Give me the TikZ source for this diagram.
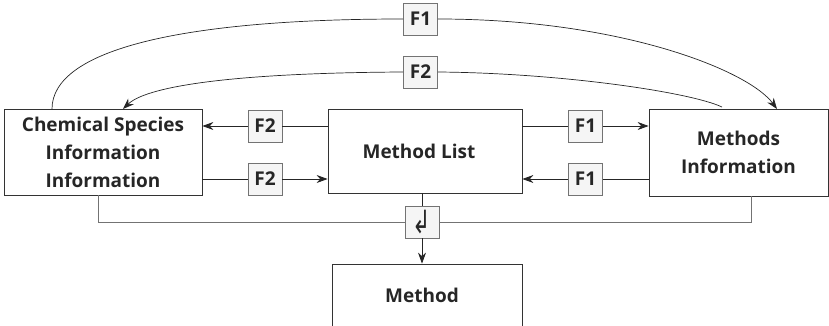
\documentclass[tikz,border=0pt]{standalone}
\usepackage{fontspec}
\setmainfont{Open Sans}
\newfontfamily\symfont{DejaVu Sans}
\usetikzlibrary{arrows.meta}
\tikzset{
  bigbox/.style={draw=black!80,line width=0.8pt,align=center,font=\fontsize{19}{28}\selectfont\bfseries,text=black!85,inner sep=0pt},
  fbox/.style={draw=black!55,fill=black!4,line width=0.8pt,minimum width=34pt,minimum height=32pt,inner sep=0pt,font=\fontsize{19}{20}\selectfont\bfseries,text=black!85},
  arr/.style={-{Stealth[length=11pt,width=8pt]}},
  wire/.style={draw=black!85,line width=0.7pt},
}
\begin{document}
\begin{tikzpicture}[x=1pt,y=1pt]
  \useasboundingbox (0,0) rectangle (829,-326);
  \clip (0,0) rectangle (829,-326);
  % main boxes
  \node[bigbox,minimum width=198pt,minimum height=86pt] (chem) at (103,-152) {Chemical Species\\Information\\Information};
  \node[bigbox,minimum width=194pt,minimum height=84pt] (list) at (425,-151) {Method List\hspace*{12pt}};
  \node[bigbox,minimum width=179pt,minimum height=87pt] (minfo) at (738.5,-152.5) {Methods\\Information};
  \node[bigbox,minimum width=190pt,minimum height=62pt] (method) at (427,-295) {Method\hspace*{10pt}};
  % flow labels
  \node[fbox] (toptF1) at (420.5,-19) {F1};
  \node[fbox] (toptF2) at (420.5,-72) {F2};
  \node[fbox] (lF2a) at (265,-126) {F2};
  \node[fbox] (lF2b) at (265,-179) {F2};
  \node[fbox] (rF1a) at (585.5,-126) {F1};
  \node[fbox] (rF1b) at (585.5,-179) {F1};
  \node[fbox,font=\symfont] (ret) at (422,-222) {\raisebox{-3pt}{\scalebox{1.1}[1.6]{\fontsize{20}{20}\selectfont ↲}}};
  % horizontal flows
  \draw[wire] (lF2a.east -| list.west) -- (lF2a.east);
  \draw[wire,arr] (lF2a.west) -- (lF2a.west -| chem.east);
  \draw[wire] (lF2b.west -| chem.east) -- (lF2b.west);
  \draw[wire,arr] (lF2b.east) -- (lF2b.east -| list.west);
  \draw[wire] (rF1a.west -| list.east) -- (rF1a.west);
  \draw[wire,arr] (rF1a.east) -- (rF1a.east -| minfo.west);
  \draw[wire] (rF1b.east -| minfo.west) -- (rF1b.east);
  \draw[wire,arr] (rF1b.west) -- (rF1b.west -| list.east);
  % curved flows over the top
  \coordinate (chemtop) at (52,-109);
  \coordinate (minfotip) at (777,-109);
  \coordinate (minfotop) at (722,-107);
  \coordinate (chemtip) at (123,-109);
  \draw[wire] (chemtop) .. controls (52,-50) and (180,-19) .. (toptF1.west);
  \draw[wire,arr] (toptF1.east) .. controls (620,-19) and (748,-70) .. (minfotip);
  \draw[wire] (minfotop) .. controls (690,-92) and (560,-73) .. (toptF2.east);
  \draw[wire,arr] (toptF2.west) .. controls (220,-73) and (145,-88) .. (chemtip);
  % merge into method
  \coordinate (chembot) at (98,-195);
  \coordinate (minfobot) at (751,-196);
  \draw[wire,draw=black!55] (chembot) -- (chembot |- ret.west) -- (ret.west);
  \draw[wire,draw=black!55] (ret.east) -- (ret.east -| minfobot) -- (minfobot);
  \draw[wire] (ret.north |- list.south) -- (ret.north);
  \draw[wire,arr] (ret.south) -- (ret.south |- method.north);
\end{tikzpicture}
\end{document}
